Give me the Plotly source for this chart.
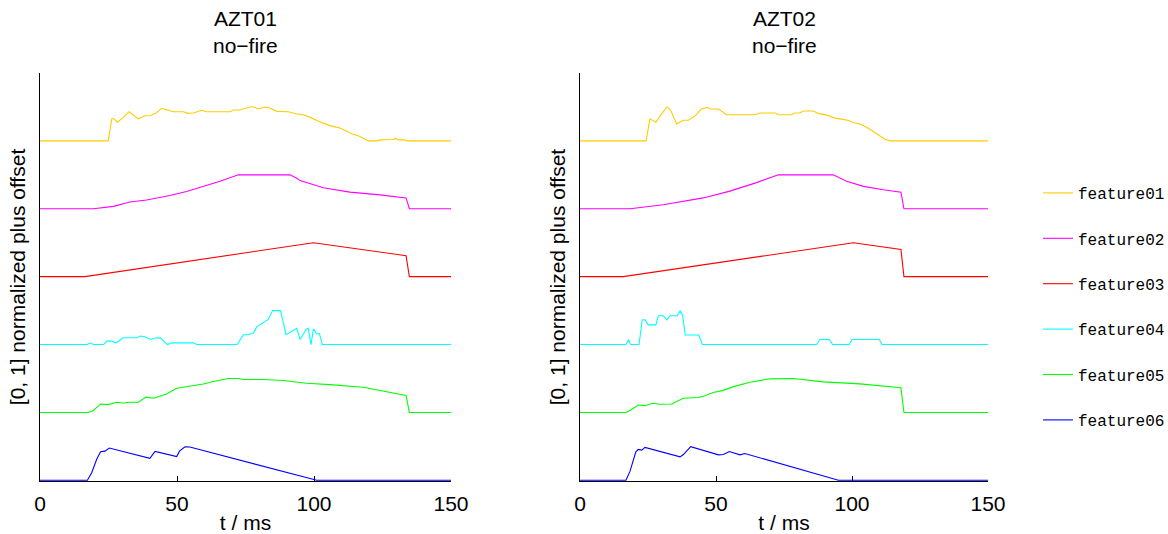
import plotly.graph_objects as go

# ---------------- data (t in ms, values normalized to [0, 1]) ----------------
feature_names = ["feature01", "feature02", "feature03", "feature04", "feature05", "feature06"]
feature_colors = ["#FFCC00", "#FF00FF", "#FF0000", "#00FFFF", "#00FF00", "#0000FF"]
panel_titles = ["AZT01<br>no\u2212fire", "AZT02<br>no\u2212fire"]
x_ticks = [0, 50, 100, 150]

# AZT01
a1_f01_t = [0, 24.9, 26.2, 27.0, 28.2, 30.2, 32.5, 34.1, 35.9, 38.3, 40.4, 42.3, 44.4, 46.2, 48.7, 52.3, 54.1, 56.0, 59.0, 60.8, 69.3, 70.6, 73.0, 76.6, 77.9, 79.7, 82.1, 83.3, 86.4, 90.6, 93.7, 96.1, 98.5, 101.6, 105.8, 109.5, 113.8, 116.8, 119.8, 122.9, 124.1, 129.0, 129.8, 130.8, 133.2, 133.8, 150]
a1_f01_v = [0, 0, 0.65, 0.65, 0.55, 0.68, 0.86, 0.76, 0.65, 0.74, 0.75, 0.82, 0.96, 0.92, 0.86, 0.86, 0.81, 0.82, 0.90, 0.86, 0.86, 0.91, 0.91, 1.0, 1.0, 0.94, 1.0, 0.99, 0.87, 0.86, 0.79, 0.77, 0.70, 0.58, 0.45, 0.38, 0.21, 0.13, 0, 0, 0.03, 0.04, 0.08, 0.03, 0.03, 0, 0]
a1_f02_t = [0, 19.5, 26.8, 32.8, 38.9, 47.4, 53.5, 59.6, 65.7, 72.4, 91.2, 93.7, 94.9, 103.4, 113.1, 124.1, 133.6, 134.8, 150]
a1_f02_v = [0, 0, 0.07, 0.20, 0.26, 0.39, 0.51, 0.66, 0.81, 1.0, 1.0, 0.90, 0.83, 0.62, 0.49, 0.41, 0.32, 0, 0]
a1_f03_t = [0, 16.4, 99.8, 133.6, 134.8, 150]
a1_f03_v = [0, 0, 1.0, 0.62, 0, 0]
a1_f04_t = [0, 17.3, 18.3, 19.5, 23.2, 24.4, 26.2, 27.7, 28.6, 30.2, 35.3, 36.5, 38.3, 40.4, 42.3, 44.0, 46.5, 48.1, 56.0, 57.2, 72.0, 74.2, 76.0, 77.9, 79.1, 81.5, 83.3, 84.9, 87.8, 89.8, 93.7, 94.9, 97.3, 97.9, 98.9, 99.8, 101.0, 102.0, 103.0, 150]
a1_f04_v = [0, 0, 0.05, 0, 0, 0.10, 0.10, 0.05, 0.09, 0.20, 0.20, 0.25, 0.23, 0.15, 0.20, 0.19, 0, 0.05, 0.05, 0, 0, 0.29, 0.29, 0.34, 0.52, 0.64, 0.74, 1.0, 1.0, 0.29, 0.48, 0.15, 0.46, 0.48, 0, 0.46, 0.32, 0.32, 0, 0]
a1_f05_t = [0, 17.6, 19.5, 22.1, 24.9, 28.0, 30.4, 32.8, 35.9, 38.7, 41.4, 46.2, 49.9, 52.3, 56.0, 59.6, 63.3, 68.7, 72.4, 74.2, 81.5, 88.8, 97.3, 105.8, 118.0, 133.6, 134.8, 150]
a1_f05_v = [0, 0, 0.06, 0.25, 0.23, 0.30, 0.28, 0.30, 0.30, 0.45, 0.42, 0.54, 0.71, 0.74, 0.80, 0.84, 0.91, 1.0, 1.0, 0.97, 0.97, 0.94, 0.86, 0.82, 0.74, 0.50, 0, 0]
a1_f06_t = [0, 17.3, 18.9, 20.7, 22.1, 23.7, 25.3, 40.1, 42.0, 49.9, 50.9, 52.9, 54.7, 101.0, 150]
a1_f06_v = [0, 0, 0.23, 0.62, 0.84, 0.86, 0.95, 0.65, 0.85, 0.70, 0.86, 0.99, 0.98, 0, 0]

# AZT02
a2_f01_t = [0, 24.3, 25.7, 27.9, 30.0, 31.9, 33.3, 35.5, 38.0, 39.8, 42.6, 44.4, 46.8, 47.8, 50.9, 53.9, 64.3, 66.2, 71.7, 72.9, 77.8, 79.0, 80.8, 82.1, 85.8, 87.6, 90.7, 93.7, 96.2, 98.7, 100.5, 103.0, 106.0, 109.1, 112.1, 114.0, 150]
a2_f01_v = [0, 0, 0.65, 0.55, 0.79, 1.0, 0.91, 0.50, 0.61, 0.61, 0.75, 0.93, 0.99, 0.94, 0.94, 0.77, 0.77, 0.82, 0.82, 0.77, 0.77, 0.82, 0.82, 0.88, 0.88, 0.81, 0.76, 0.67, 0.64, 0.60, 0.54, 0.50, 0.37, 0.21, 0.05, 0, 0]
a2_f02_t = [0, 18.4, 30.6, 45.3, 55.1, 64.9, 72.9, 93.1, 98.0, 104.2, 111.5, 118.0, 119.1, 150]
a2_f02_v = [0, 0, 0.12, 0.32, 0.52, 0.77, 1.0, 1.0, 0.81, 0.66, 0.56, 0.49, 0, 0]
a2_f03_t = [0, 15.9, 100.5, 118.0, 119.1, 150]
a2_f03_v = [0, 0, 1.0, 0.80, 0, 0]
a2_f04_t = [0, 16.9, 17.8, 18.6, 21.7, 22.9, 23.9, 25.1, 27.9, 28.8, 30.6, 31.9, 33.1, 35.8, 36.8, 37.7, 38.7, 43.7, 45.0, 87.0, 88.2, 91.6, 92.9, 99.0, 100.0, 110.0, 111.1, 150]
a2_f04_v = [0, 0, 0.14, 0, 0, 0.73, 0.73, 0.58, 0.58, 0.85, 0.85, 0.73, 0.85, 0.85, 0.99, 0.87, 0.28, 0.28, 0, 0, 0.15, 0.15, 0, 0, 0.15, 0.15, 0, 0]
a2_f05_t = [0, 16.9, 18.4, 21.4, 23.9, 26.7, 29.4, 33.7, 38.0, 43.5, 45.9, 49.0, 52.7, 56.4, 62.5, 69.9, 78.4, 89.5, 102.9, 118.0, 119.1, 150]
a2_f05_v = [0, 0, 0.06, 0.22, 0.20, 0.27, 0.24, 0.25, 0.42, 0.44, 0.49, 0.59, 0.65, 0.76, 0.89, 0.99, 1.0, 0.90, 0.84, 0.73, 0, 0]
a2_f06_t = [0, 16.9, 18.4, 20.5, 21.4, 22.7, 23.9, 36.8, 38.0, 40.7, 50.9, 52.7, 54.9, 58.8, 60.6, 95.0, 150]
a2_f06_v = [0, 0, 0.27, 0.83, 0.91, 0.89, 0.97, 0.69, 0.76, 0.99, 0.75, 0.76, 0.85, 0.75, 0.79, 0, 0]

panel_series = [
    [(a1_f01_t, a1_f01_v), (a1_f02_t, a1_f02_v), (a1_f03_t, a1_f03_v),
     (a1_f04_t, a1_f04_v), (a1_f05_t, a1_f05_v), (a1_f06_t, a1_f06_v)],
    [(a2_f01_t, a2_f01_v), (a2_f02_t, a2_f02_v), (a2_f03_t, a2_f03_v),
     (a2_f04_t, a2_f04_v), (a2_f05_t, a2_f05_v), (a2_f06_t, a2_f06_v)],
]

# ---------------- figure ----------------
SCALE = 0.5          # normalized amplitude shown as half an offset step
N = len(feature_names)
FONT = "Liberation Sans, Arial, Helvetica, sans-serif"
FS = 21

fig = go.Figure()
for p, series in enumerate(panel_series):
    xa = "x" if p == 0 else "x2"
    ya = "y" if p == 0 else "y2"
    for i, (t, v) in enumerate(series):
        offset = N - 1 - i
        fig.add_trace(go.Scatter(
            x=t, y=[val * SCALE + offset for val in v],
            mode="lines", name=feature_names[i],
            line=dict(color=feature_colors[i], width=1.1),
            legendgroup=feature_names[i], showlegend=(p == 0),
            xaxis=xa, yaxis=ya, hoverinfo="skip",
        ))

xcommon = dict(range=[0, 150], tickvals=x_ticks, ticks="inside", ticklen=5,
               tickcolor="black", showline=True, linecolor="black", linewidth=1,
               showgrid=False, zeroline=False, layer="below traces",
               ticklabelstandoff=4,
               tickfont=dict(family=FONT, size=FS, color="black"),
               title=dict(text="t / ms", font=dict(family=FONT, size=FS, color="black"), standoff=3))
ycommon = dict(range=[-0.01, 6], showline=True, linecolor="black", linewidth=1,
               showticklabels=False, ticks="", showgrid=False, zeroline=False,
               layer="below traces",
               title=dict(text="[0, 1] normalized plus offset",
                          font=dict(family=FONT, size=FS, color="black"), standoff=7))

L, R, T, B = 40, 0, 73, 53
W, H = 1168, 534
PW = W - L - R
PH = H - T - B

fig.update_layout(
    width=W, height=H,
    margin=dict(l=L, r=R, t=T, b=B, autoexpand=False),
    paper_bgcolor="white", plot_bgcolor="white",
    xaxis=dict(domain=[0, (451 - L) / PW], anchor="y", **xcommon),
    yaxis=dict(domain=[0, 1], anchor="x", **ycommon),
    xaxis2=dict(domain=[(580 - L) / PW, (988 - L) / PW], anchor="y2", **xcommon),
    yaxis2=dict(domain=[0, 1], anchor="x2", **ycommon),
    showlegend=True,
    legend=dict(x=(1038 - L) / PW, y=(H - B - 176) / PH, xanchor="left", yanchor="top",
                font=dict(family="Liberation Mono, Courier New, monospace", size=16, color="black"),
                tracegroupgap=21.6, bgcolor="rgba(0,0,0,0)", itemclick=False),
    annotations=[
        dict(text=panel_titles[0], x=((40 + 451) / 2 - L) / PW, y=(H - B - 32) / PH,
             xref="paper", yref="paper", showarrow=False, xanchor="center", yanchor="middle",
             font=dict(family=FONT, size=FS, color="black")),
        dict(text=panel_titles[1], x=((580 + 988) / 2 - L) / PW, y=(H - B - 32) / PH,
             xref="paper", yref="paper", showarrow=False, xanchor="center", yanchor="middle",
             font=dict(family=FONT, size=FS, color="black")),
    ],
)

fig.write_html("out.html")
